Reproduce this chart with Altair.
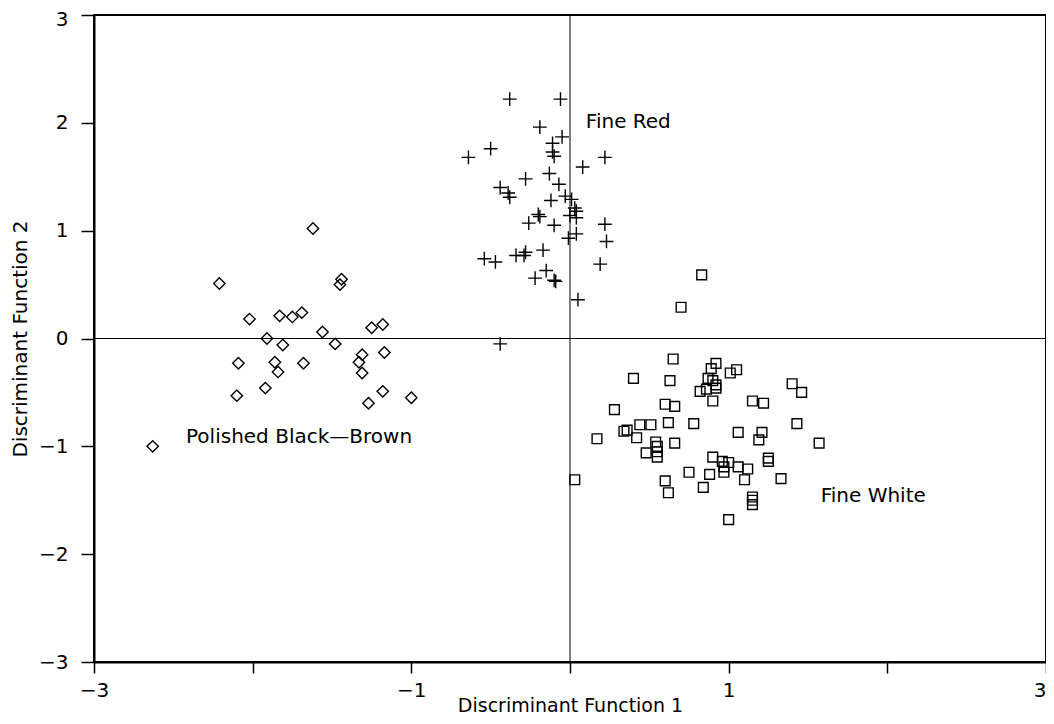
import altair as alt
import pandas as pd

# Polished Black-Brown (diamonds)
pbb_x = [-2.21, -1.44, -1.45, -2.02, -1.83, -1.75, -1.69, -1.56, -1.25, -1.18,
         -1.91, -1.81, -1.48, -1.31, -1.17, -2.09, -1.86, -1.68, -1.33, -1.84,
         -1.31, -1.92, -2.10, -1.18, -1.27, -1.00, -2.63, -1.62]
pbb_y = [0.51, 0.55, 0.50, 0.18, 0.21, 0.20, 0.24, 0.06, 0.10, 0.13,
         0.00, -0.06, -0.05, -0.15, -0.13, -0.23, -0.22, -0.23, -0.22, -0.31,
         -0.32, -0.46, -0.53, -0.49, -0.60, -0.55, -1.00, 1.02]

# Fine Red (crosses)
fr_x = [-0.38, -0.06, -0.19, -0.05, -0.11, -0.11, -0.10, -0.50, -0.64, 0.22,
        0.08, -0.28, -0.13, -0.07, -0.44, -0.39, -0.38, -0.03, 0.01, -0.12,
        0.03, 0.04, 0.00, 0.04, -0.20, -0.19, -0.10, -0.26, 0.22, 0.23,
        0.04, -0.01, -0.17, -0.28, -0.34, -0.29, -0.54, -0.47, 0.19, -0.15,
        -0.22, -0.10, -0.09, 0.05, -0.44]
fr_y = [2.22, 2.22, 1.96, 1.87, 1.81, 1.73, 1.69, 1.76, 1.68, 1.68,
        1.59, 1.48, 1.53, 1.43, 1.40, 1.35, 1.31, 1.32, 1.29, 1.28,
        1.21, 1.18, 1.14, 1.12, 1.15, 1.13, 1.05, 1.07, 1.06, 0.90,
        0.97, 0.93, 0.82, 0.80, 0.77, 0.77, 0.74, 0.71, 0.69, 0.63,
        0.56, 0.54, 0.53, 0.36, -0.05]

# Fine White (squares)
fw_x = [0.83, 0.70, 0.65, 0.92, 0.89, 1.05, 1.01, 0.40, 0.63, 0.87,
        0.90, 0.92, 0.86, 0.82, 0.92, 0.90, 1.40, 1.46, 1.15, 1.22,
        0.60, 0.66, 0.28, 0.44, 0.51, 0.62, 0.78, 1.43, 0.17, 0.34,
        0.36, 0.42, 1.06, 1.21, 1.19, 1.57, 0.66, 0.54, 0.55, 0.55,
        0.48, 0.55, 0.90, 0.96, 0.97, 1.00, 0.97, 1.06, 1.12, 1.25,
        1.25, 0.88, 0.75, 1.10, 1.33, 0.03, 0.60, 0.62, 0.84, 1.15,
        1.15, 1.15, 1.00]
fw_y = [0.59, 0.29, -0.19, -0.23, -0.28, -0.29, -0.32, -0.37, -0.39, -0.37,
        -0.39, -0.43, -0.47, -0.49, -0.46, -0.58, -0.42, -0.50, -0.58, -0.60,
        -0.61, -0.63, -0.66, -0.80, -0.80, -0.78, -0.79, -0.79, -0.93, -0.86,
        -0.85, -0.92, -0.87, -0.87, -0.94, -0.97, -0.97, -0.96, -1.00, -1.05,
        -1.06, -1.10, -1.10, -1.14, -1.19, -1.15, -1.24, -1.19, -1.21, -1.11,
        -1.14, -1.26, -1.24, -1.31, -1.30, -1.31, -1.32, -1.43, -1.38, -1.47,
        -1.50, -1.54, -1.68]

group_names = ["Polished Black—Brown", "Fine Red", "Fine White"]
label_x = [-2.42, 0.10, 1.58]
label_y = [-0.91, 2.01, -1.46]

tick_values = [-3, -2, -1, 0, 1, 2, 3]

labels_df = pd.DataFrame({"x": label_x, "y": label_y, "text": group_names})
ref_df = pd.DataFrame({"v": [0]})

FONT = "DejaVu Sans"
W, H = 952, 647

xscale = alt.Scale(domain=[-3, 3], nice=False, zero=False)
yscale = alt.Scale(domain=[-3, 3], nice=False, zero=False)

xaxis = alt.Axis(
    values=tick_values,
    labelExpr="abs(datum.value) % 2 == 1 ? datum.label : ''",
    labelAlign={"expr": "datum.value >= 3 ? 'right' : 'center'"},
    format="d",
    grid=False,
    domainColor="black", domainWidth=2,
    tickColor="black", tickWidth=1.5, tickSize=11,
    labelFont=FONT, labelFontSize=20, labelColor="black", labelPadding=7,
    title="Discriminant Function 1",
    titleFont=FONT, titleFontSize=19, titleFontWeight="normal", titleColor="black",
    titleX=W / 2, titleY=49, titleBaseline="alphabetic", titleAlign="center",
)
yaxis = alt.Axis(
    values=tick_values,
    format="d",
    grid=False,
    domainColor="black", domainWidth=2,
    tickColor="black", tickWidth=1.5, tickSize=13,
    labelFont=FONT, labelFontSize=20, labelColor="black", labelPadding=13,
    labelBaseline={"expr": "datum.value >= 3 ? 'top' : 'middle'"},
    labelOffset={"expr": "datum.value >= 3 ? -6 : 0"},
    title="Discriminant Function 2",
    titleFont=FONT, titleFontSize=20, titleFontWeight="normal", titleColor="black",
    titleAngle=-90, titleX=-74, titleY=H / 2, titleBaseline="middle", titleAlign="center",
)


def X(field):
    return alt.X(field, scale=xscale, axis=xaxis)


def Y(field):
    return alt.Y(field, scale=yscale, axis=yaxis)


def group_layer(xs, ys, shape, size):
    d = pd.DataFrame({"x": xs, "y": ys})
    return alt.Chart(d).mark_point(
        filled=False, strokeWidth=1.4, color="black", opacity=1,
        shape=shape, size=size,
    ).encode(x=X("x:Q"), y=Y("y:Q"))


diamonds = group_layer(pbb_x, pbb_y, "diamond", 130)
crosses = group_layer(fr_x, fr_y, "M-1,0L1,0M0,-1L0,1", 190)
squares = group_layer(fw_x, fw_y, "square", 95)

vline = alt.Chart(ref_df).mark_rule(color="black", strokeWidth=1).encode(x=X("v:Q"))
hline = alt.Chart(ref_df).mark_rule(color="black", strokeWidth=1).encode(y=Y("v:Q"))

texts = alt.Chart(labels_df).mark_text(
    align="left", baseline="middle", font=FONT, fontSize=20, color="black"
).encode(
    x=X("x:Q"),
    y=Y("y:Q"),
    text="text:N",
)

chart = alt.layer(diamonds, crosses, squares, vline, hline, texts).properties(
    width=W, height=H,
    autosize=alt.AutoSizeParams(type="none"),
    padding={"left": 86, "top": 7, "right": 0, "bottom": 54},
).configure_view(stroke="black", strokeWidth=2)

chart.save("out.html", embed_options={"renderer": "svg", "actions": False})
